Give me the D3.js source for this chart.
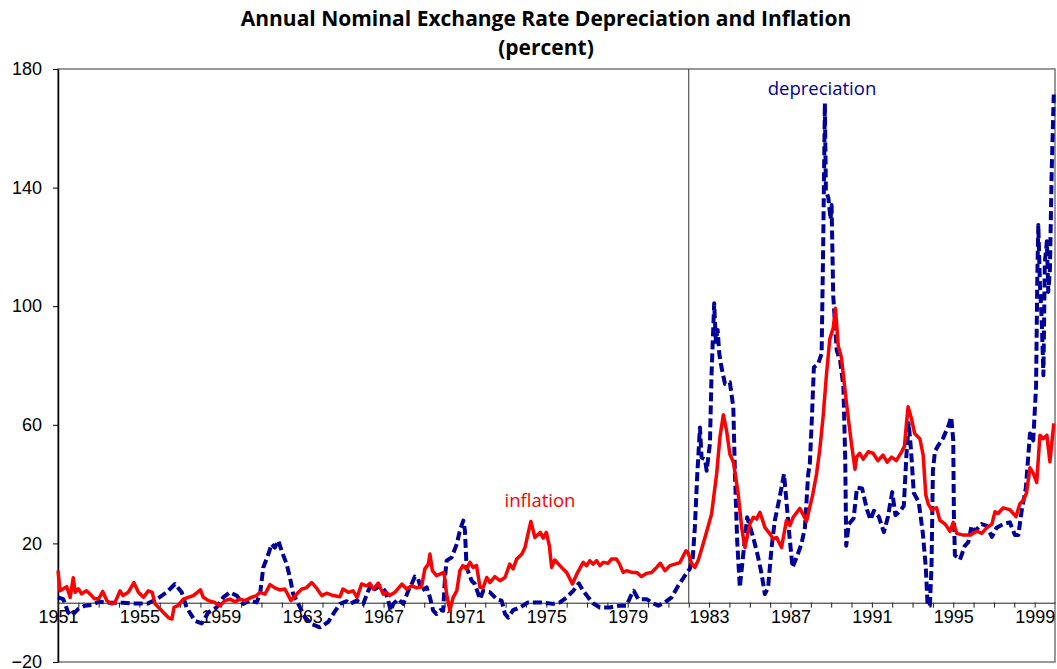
<!DOCTYPE html>
<html>
<head>
<meta charset="utf-8">
<script src="https://cdn.jsdelivr.net/npm/d3@7"></script>
<style>
  body { margin: 0; background: #fff; }
  svg { display: block; }
</style>
</head>
<body>
<div id="chart"></div>
<script>
// values: [year, percent]
var inflation = [[1951.00,10.8],[1951.10,4.0],[1951.26,4.7],[1951.43,5.4],[1951.60,1.8],[1951.75,8.4],[1951.84,3.5],[1952.00,4.7],[1952.16,3.0],[1952.40,4.0],[1952.65,2.4],[1952.80,1.3],[1953.00,1.3],[1953.20,3.8],[1953.40,0.7],[1953.64,-0.4],[1953.80,0.1],[1954.05,4.0],[1954.20,2.4],[1954.45,3.5],[1954.73,6.8],[1954.95,3.5],[1955.20,1.8],[1955.44,4.0],[1955.63,3.5],[1955.77,-0.4],[1956.10,-2.7],[1956.42,-5.0],[1956.60,-5.5],[1956.70,-1.6],[1956.90,-1.0],[1957.16,1.2],[1957.40,1.8],[1957.65,2.4],[1958.00,4.3],[1958.14,1.8],[1958.40,0.7],[1958.70,0.1],[1958.96,-1.0],[1959.20,0.7],[1959.45,1.2],[1959.70,0.3],[1959.94,1.2],[1960.20,0.7],[1960.50,1.8],[1960.76,2.4],[1960.93,3.5],[1961.17,2.9],[1961.42,6.1],[1961.66,5.0],[1961.90,4.3],[1962.15,4.6],[1962.24,3.5],[1962.45,0.7],[1962.73,2.9],[1962.98,4.6],[1963.20,5.0],[1963.47,6.8],[1963.70,5.0],[1963.96,2.4],[1964.20,3.2],[1964.53,2.4],[1964.86,2.0],[1965.00,4.6],[1965.27,3.5],[1965.50,4.0],[1965.70,1.8],[1965.92,6.3],[1966.17,5.7],[1966.33,6.5],[1966.50,4.6],[1966.74,6.6],[1966.98,2.9],[1967.15,3.5],[1967.30,2.4],[1967.56,3.5],[1967.90,6.3],[1968.13,4.6],[1968.38,5.7],[1968.63,5.0],[1968.87,5.4],[1969.03,11.4],[1969.20,13.0],[1969.28,16.4],[1969.40,10.8],[1969.60,9.1],[1969.80,9.7],[1969.97,10.2],[1970.10,2.9],[1970.26,-2.7],[1970.42,1.8],[1970.60,4.0],[1970.75,10.8],[1970.90,12.5],[1971.08,11.4],[1971.25,13.6],[1971.40,11.9],[1971.57,12.5],[1971.74,5.2],[1971.90,5.2],[1972.07,8.5],[1972.23,6.8],[1972.47,8.8],[1972.72,7.4],[1972.97,8.5],[1973.20,13.0],[1973.37,11.4],[1973.54,14.7],[1973.80,16.4],[1973.95,18.6],[1974.10,23.2],[1974.24,27.4],[1974.44,22.0],[1974.70,23.7],[1974.85,21.8],[1975.00,23.7],[1975.15,19.2],[1975.26,11.9],[1975.42,14.4],[1975.60,13.0],[1975.75,11.9],[1976.00,10.2],[1976.16,8.0],[1976.28,6.3],[1976.50,9.7],[1976.65,11.6],[1976.81,13.6],[1976.98,12.5],[1977.14,14.2],[1977.30,13.0],[1977.47,14.2],[1977.63,12.5],[1977.80,13.6],[1978.04,13.3],[1978.20,14.7],[1978.45,14.7],[1978.60,13.0],[1978.78,10.2],[1978.94,10.8],[1979.20,10.2],[1979.44,10.2],[1979.68,8.8],[1979.93,9.9],[1980.17,10.2],[1980.42,11.9],[1980.60,13.3],[1980.83,10.8],[1981.07,12.5],[1981.32,13.0],[1981.56,13.5],[1981.65,14.7],[1981.86,17.5],[1981.97,16.8],[1982.14,13.2],[1982.30,11.9],[1982.46,14.2],[1982.63,18.0],[1982.84,23.0],[1983.12,29.9],[1983.37,43.4],[1983.53,55.7],[1983.70,63.4],[1983.86,58.0],[1984.02,50.1],[1984.20,47.3],[1984.43,36.7],[1984.60,25.4],[1984.76,18.6],[1985.00,26.5],[1985.17,28.8],[1985.33,28.2],[1985.50,30.5],[1985.74,25.4],[1985.99,23.2],[1986.15,21.5],[1986.32,22.0],[1986.56,18.6],[1986.80,27.7],[1986.97,26.0],[1987.13,28.8],[1987.46,31.8],[1987.79,27.5],[1988.10,36.7],[1988.28,43.4],[1988.44,51.7],[1988.60,62.5],[1988.77,77.1],[1988.93,88.9],[1989.10,92.6],[1989.21,99.3],[1989.35,86.5],[1989.50,82.8],[1989.76,66.9],[1990.00,53.4],[1990.17,45.0],[1990.25,49.1],[1990.40,50.4],[1990.57,48.4],[1990.82,50.9],[1991.06,50.4],[1991.30,47.9],[1991.55,49.8],[1991.75,47.4],[1991.97,49.1],[1992.20,47.9],[1992.46,50.9],[1992.60,52.7],[1992.70,60.5],[1992.78,66.1],[1992.95,62.0],[1993.10,57.1],[1993.36,55.3],[1993.52,49.8],[1993.65,36.3],[1993.77,33.3],[1993.93,31.4],[1994.18,32.0],[1994.34,27.8],[1994.60,26.5],[1994.84,24.1],[1995.00,27.1],[1995.17,23.4],[1995.50,22.8],[1995.82,22.8],[1996.16,24.1],[1996.40,23.4],[1996.65,25.3],[1996.90,26.5],[1997.05,30.7],[1997.20,30.1],[1997.45,32.0],[1997.78,31.4],[1998.08,29.0],[1998.27,33.3],[1998.43,34.5],[1998.60,37.0],[1998.77,45.5],[1998.93,43.7],[1999.10,40.6],[1999.26,56.5],[1999.42,55.3],[1999.60,56.5],[1999.75,47.5],[1999.94,60.5]];

var depreciation = [[1951.00,1.8],[1951.26,1.2],[1951.50,-3.3],[1951.67,-4.4],[1952.00,-2.1],[1952.33,-1.0],[1952.65,-0.8],[1953.00,0.3],[1953.50,0.0],[1954.20,0.0],[1954.80,-0.3],[1955.40,-0.3],[1955.85,1.2],[1956.34,3.5],[1956.75,6.3],[1957.08,3.5],[1957.32,-1.6],[1957.73,-6.1],[1958.06,-7.0],[1958.39,-3.3],[1958.80,-1.6],[1959.12,1.8],[1959.45,3.5],[1959.78,2.4],[1960.10,-0.4],[1960.43,0.7],[1960.76,0.1],[1960.93,2.9],[1961.09,11.9],[1961.34,16.4],[1961.50,19.8],[1961.66,18.6],[1961.83,20.9],[1961.99,17.5],[1962.24,13.0],[1962.40,8.5],[1962.56,2.9],[1962.81,-0.4],[1963.14,-5.0],[1963.47,-7.2],[1963.87,-8.3],[1964.28,-6.5],[1964.60,-3.0],[1964.86,-0.4],[1965.19,0.5],[1965.35,-0.4],[1965.68,0.7],[1966.00,-0.4],[1966.25,4.0],[1966.41,6.3],[1966.58,4.6],[1966.82,5.7],[1967.07,4.0],[1967.23,0.7],[1967.35,-2.7],[1967.48,-0.4],[1967.72,1.2],[1967.97,-0.4],[1968.21,4.0],[1968.38,6.3],[1968.54,8.8],[1968.70,8.0],[1968.87,4.0],[1969.12,5.2],[1969.28,1.8],[1969.44,-2.7],[1969.60,-3.8],[1969.80,-2.5],[1969.93,-2.7],[1970.02,8.5],[1970.10,14.2],[1970.35,15.3],[1970.60,19.8],[1970.75,24.3],[1970.92,27.7],[1971.00,24.3],[1971.08,11.9],[1971.33,7.4],[1971.49,6.3],[1971.74,1.2],[1971.90,4.0],[1972.23,3.5],[1972.56,1.2],[1972.80,0.7],[1972.97,-3.8],[1973.13,-5.0],[1973.37,-2.5],[1973.70,-1.6],[1974.10,0.1],[1974.69,0.1],[1975.34,-0.4],[1975.67,0.1],[1976.00,1.8],[1976.32,4.0],[1976.60,6.5],[1976.81,4.0],[1977.06,1.8],[1977.30,-0.2],[1977.63,-1.6],[1978.12,-1.6],[1978.60,-1.0],[1978.94,-1.0],[1979.19,2.9],[1979.30,4.0],[1979.52,1.2],[1979.93,1.2],[1980.25,-0.2],[1980.50,-1.0],[1980.83,0.1],[1981.16,1.8],[1981.48,5.7],[1981.81,9.1],[1982.05,11.4],[1982.20,15.3],[1982.30,25.4],[1982.42,43.4],[1982.55,59.1],[1982.63,49.0],[1982.80,48.4],[1982.88,44.5],[1983.04,53.5],[1983.12,77.1],[1983.25,101.0],[1983.33,88.0],[1983.42,92.0],[1983.50,84.0],[1983.61,79.4],[1983.78,73.8],[1984.02,74.3],[1984.19,65.9],[1984.27,43.4],[1984.38,20.9],[1984.51,5.2],[1984.68,16.4],[1984.87,28.8],[1985.17,22.0],[1985.41,15.3],[1985.58,9.7],[1985.74,2.9],[1985.90,5.2],[1986.07,18.6],[1986.23,27.7],[1986.40,33.3],[1986.56,38.9],[1986.68,43.4],[1986.77,36.7],[1986.94,23.2],[1987.10,11.9],[1987.30,15.3],[1987.54,19.8],[1987.71,25.4],[1987.87,43.4],[1987.95,46.8],[1988.04,60.3],[1988.15,79.4],[1988.36,80.5],[1988.53,84.0],[1988.61,121.9],[1988.69,168.4],[1988.74,139.0],[1988.86,136.6],[1988.97,129.3],[1989.02,134.1],[1989.10,103.6],[1989.27,85.2],[1989.44,81.6],[1989.60,73.0],[1989.69,48.6],[1989.74,19.2],[1989.86,26.5],[1990.10,28.4],[1990.27,38.8],[1990.52,38.5],[1990.76,31.4],[1990.93,28.0],[1991.10,31.0],[1991.34,29.0],[1991.59,23.8],[1991.79,29.0],[1992.00,37.3],[1992.16,29.5],[1992.40,31.0],[1992.57,32.7],[1992.70,50.0],[1992.81,60.5],[1992.93,51.0],[1993.06,37.0],[1993.30,34.0],[1993.50,23.7],[1993.65,11.9],[1993.74,-1.0],[1993.85,-1.0],[1993.93,11.9],[1994.00,44.5],[1994.10,51.0],[1994.26,53.0],[1994.50,55.5],[1994.76,59.6],[1994.90,62.6],[1995.00,54.7],[1995.03,30.1],[1995.08,16.0],[1995.33,14.5],[1995.57,19.2],[1995.74,20.4],[1995.90,25.9],[1996.06,24.1],[1996.39,26.5],[1996.65,25.9],[1996.90,22.2],[1997.13,25.3],[1997.45,26.5],[1997.78,27.1],[1998.03,22.8],[1998.20,22.8],[1998.37,31.4],[1998.57,38.8],[1998.77,57.1],[1998.93,54.7],[1999.07,73.0],[1999.13,109.7],[1999.18,127.4],[1999.26,107.2],[1999.35,95.0],[1999.43,76.7],[1999.50,114.6],[1999.60,121.9],[1999.67,104.8],[1999.75,112.1],[1999.84,146.4],[1999.94,171.4]];

var yTicks = [-20, 20, 60, 100, 140, 180];
var xTicks = d3.range(1951, 2000);   // one tick per year, label every 4th
var breakYear = 1982;
var titleLines = ["Annual Nominal Exchange Rate Depreciation and Inflation", "(percent)"];

var width = 1057, height = 669;
// plot box (don't call these top/left, window.top is read-only)
var plotL = 58, plotR = 1055, plotT = 69, plotB = 662;
var labelFont = "'Open Sans', sans-serif";
var tickFont = "'Liberation Sans', Arial, sans-serif";

var svg = d3.select("#chart").append("svg")
  .attr("width", width)
  .attr("height", height);

var x = d3.scaleLinear().domain([1951, 2000]).range([plotL, plotR]);
var y = d3.scaleLinear().domain([-20, 180]).range([plotB, plotT]);

//title
svg.selectAll(".title").data(titleLines).enter().append("text")
  .attr("class", "title")
  .attr("x", 546)
  .attr("y", function(d, i) { return 26 + i * 29; })
  .attr("text-anchor", "middle")
  .style("font-family", labelFont)
  .style("font-weight", "bold")
  .style("font-size", "21px")
  .text(function(d) { return d; });

//plot frame (grey on top, right and bottom)
svg.append("rect")
  .attr("x", plotL).attr("y", plotT)
  .attr("width", plotR - plotL).attr("height", plotB - plotT)
  .attr("fill", "none")
  .attr("stroke", "#777")
  .attr("stroke-width", 1.5);

//vertical marker line
svg.append("line")
  .attr("x1", x(breakYear)).attr("x2", x(breakYear))
  .attr("y1", plotT).attr("y2", y(0))
  .attr("stroke", "#333")
  .attr("stroke-width", 1);

//y axis
var yAxis = d3.axisLeft(y).tickValues(yTicks).tickSize(5).tickSizeOuter(0).tickPadding(11);
var gy = svg.append("g").attr("transform", "translate(" + plotL + ",0)").call(yAxis);
gy.select(".domain").attr("stroke", "#000").attr("stroke-width", 1.5);
gy.selectAll("text")
  .style("font-family", tickFont)
  .style("font-size", "18px");

//x axis sits at zero
var xAxis = d3.axisBottom(x).tickValues(xTicks).tickSize(5).tickSizeOuter(0).tickPadding(3)
  .tickFormat(function(d) { return (d - 1951) % 4 == 0 ? d : ""; });
var gx = svg.append("g").attr("transform", "translate(0," + y(0) + ")").call(xAxis);
gx.select(".domain").attr("stroke", "#222").attr("stroke-width", 1);
gx.selectAll("line").attr("stroke", "#222");
gx.selectAll("text")
  .style("font-family", tickFont)
  .style("font-size", "18px");

//series
var line = d3.line()
  .x(function(d) { return x(d[0]); })
  .y(function(d) { return y(d[1]); })
  .curve(d3.curveLinear);

svg.append("path")
  .attr("d", line(depreciation))
  .attr("fill", "none")
  .attr("stroke", "#000099")
  .attr("stroke-width", 4)
  .attr("stroke-dasharray", "9,4")
  .attr("stroke-linejoin", "round");

svg.append("path")
  .attr("d", line(inflation))
  .attr("fill", "none")
  .attr("stroke", "#ff0000")
  .attr("stroke-width", 3.5)
  .attr("stroke-linejoin", "round");

//series labels
svg.append("text")
  .attr("x", 822).attr("y", 95)
  .attr("text-anchor", "middle")
  .style("font-family", labelFont)
  .style("font-size", "18.5px")
  .attr("fill", "#000099")
  .text("depreciation");

svg.append("text")
  .attr("x", 540).attr("y", 507)
  .attr("text-anchor", "middle")
  .style("font-family", labelFont)
  .style("font-size", "18.5px")
  .attr("fill", "#ff0000")
  .text("inflation");
</script>
</body>
</html>
